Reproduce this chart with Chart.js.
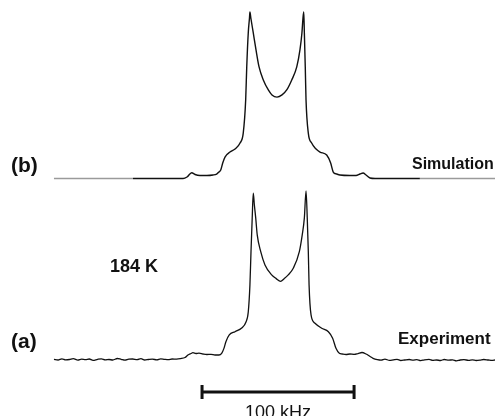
<!DOCTYPE html>
<html>
<head>
<meta charset="utf-8">
<title>184 K spectrum</title>
<script src="https://cdn.jsdelivr.net/npm/chart.js@4.4.1/dist/chart.umd.min.js"></script>
<style>
  html, body { margin: 0; padding: 0; background: #fff; }
  canvas { display: block; }
</style>
</head>
<body>
<canvas id="espectro" width="495" height="416"></canvas>
<script>
// frequency offset in kHz, intensity normalised to the horn maximum
const simFreq = [-146.7, -94.7, -61.8, -59.2, -56.1, -53.9, -50.7, -46.1, -42.1, -39.7, -38.2, -37.0, -35.7, -34.2, -30.9, -27.6, -24.3, -22.2, -20.6, -19.9, -18.9, -18.1, -17.8, -17.2, -15.6, -13.8, -11.8, -9.0, -5.7, -3.3, 0, 3.3, 6.4, 9.7, 13.0, 15.1, 16.4, 17.1, 17.6, 18.0, 18.6, 19.1, 20.6, 22.8, 25.7, 28.3, 32.7, 35.3, 37.0, 39.3, 41.4, 48.0, 52.0, 54.6, 56.6, 58.6, 61.2, 64.5, 94.0, 143.4];
const simIntensity = [0, 0, 0, 0.9, 3.5, 2.4, 1.8, 1.8, 2.1, 2.7, 3.9, 5.1, 9.3, 12.9, 15.9, 17.7, 21.3, 27.3, 47.1, 67.0, 87.4, 96.4, 100, 96.4, 87.4, 77.2, 67.0, 59.2, 53.2, 50.2, 48.9, 50.2, 53.2, 59.2, 67.0, 77.2, 87.4, 96.4, 100, 87.4, 67.0, 47.1, 27.3, 21.3, 17.7, 15.9, 14.1, 9.3, 3.9, 2.7, 2.1, 1.8, 1.8, 2.7, 3.3, 2.1, 0.3, 0, 0, 0];

const expFreq = [
  -146.7, -144, -141.5, -139, -136.5, -134, -131, -128.5, -126, -123.5, -121, -118, -115.5, -113, -110.5, -108, -105, -102.5, -100, -97.5, -95, -92, -89.5, -87, -84.5, -82, -79, -76.5, -74, -71.5, -69, -66, -63.5,
  -60.5, -58.6, -56.6, -55.3, -53.3, -51.3, -48.7, -46.1, -43.4, -40.8, -38.2, -36.4, -34.9, -33.6, -31.4, -27.6, -23.2, -20.4, -18.9, -17.8, -17.1, -16.3, -15.6, -14.9, -14.0, -13.0, -10.7, -7.9, -3.5, -0.7,
  2.4, 4.6, 7.4, 10.7, 14.7, 16.6, 18.0, 19.1, 19.9, 20.6, 21.1, 22.4, 25.0, 29.4, 33.8, 36.6, 38.8, 41.0, 42.8, 45.4, 48.0, 50.7, 53.3, 55.9, 58.6, 61.2, 63.2,
  66, 68.5, 71, 74, 76.5, 79, 81.5, 84, 87, 89.5, 92, 94.5, 97, 100, 102.5, 105, 107.5, 110, 113, 115.5, 118, 120.5, 123, 126, 128.5, 131, 133.5, 136, 139, 141.5, 143.4
];
const expIntensity = [
  0.1, -0.3, 0.4, -0.2, 0.0, 0.5, -0.4, 0.2, -0.1, 0.3, -0.5, 0.1, 0.4, -0.2, 0.0, -0.3, 0.6, 0.1, -0.4, 0.2, 0.3, -0.1, 0.5, -0.3, 0.0, 0.2, -0.2, 0.4, 0.1, -0.1, 0.3, 0.2, 0.5,
  1.2, 2.7, 3.6, 4.1, 3.6, 3.8, 3.3, 3.0, 3.1, 2.7, 2.7, 3.7, 6.7, 10.7, 14.8, 16.7, 19.0, 22.6, 28.6, 44.9, 64.8, 85.2, 100.1, 93.1, 85.2, 75.0, 64.9, 56.9, 50.9, 48.8,
  47.0, 48.5, 50.9, 54.9, 64.9, 75.0, 85.2, 101.5, 85.2, 64.9, 44.9, 26.8, 21.8, 18.8, 16.7, 12.8, 6.7, 3.7, 3.3, 3.0, 3.3, 3.1, 3.6, 4.2, 3.3, 1.8, 0.7,
  -0.1, -0.4, 0.2, -0.5, -0.2, 0.1, -0.6, -0.3, 0.0, -0.4, -0.1, -0.7, -0.2, 0.1, -0.5, -0.3, -0.6, 0.0, -0.4, -0.2, -0.8, -0.3, -0.1, -0.5, -0.2, -0.6, -0.4, 0.0, -0.3, -0.5, -0.3
];

// scale bar: start (kHz) and length
const barraInicio = -49.3;
const barraAncho = 100;
const barraTexto = "100 kHz";

const toXY = (xs, ys) => xs.map((x, i) => ({ x, y: ys[i] }));

// labels and scale bar drawn over the traces
const rotulos = {
  id: "rotulos",
  afterDatasetsDraw(chart) {
    const { ctx, scales } = chart;
    const x = scales.x;
    ctx.save();
    ctx.fillStyle = "#111";
    ctx.textBaseline = "middle";

    ctx.font = "bold 21px 'Liberation Sans', Arial, sans-serif";
    ctx.textAlign = "left";
    ctx.fillText("(b)", 11, 166);
    ctx.fillText("(a)", 11, 342);

    ctx.font = "bold 16px 'Liberation Sans', Arial, sans-serif";
    ctx.fillText("Simulation", 412, 165);
    ctx.font = "bold 17px 'Liberation Sans', Arial, sans-serif";
    ctx.fillText("Experiment", 398, 339);
    ctx.font = "bold 18px 'Liberation Sans', Arial, sans-serif";
    ctx.fillText("184 K", 110, 267);

    // scale bar under the experimental trace
    const yBar = scales.yExp.getPixelForValue(-19.6);
    const x0 = x.getPixelForValue(barraInicio);
    const x1 = x.getPixelForValue(barraInicio + barraAncho);
    ctx.strokeStyle = "#111";
    ctx.lineWidth = 3;
    ctx.beginPath();
    ctx.moveTo(x0, yBar);
    ctx.lineTo(x1, yBar);
    ctx.moveTo(x0, yBar - 7);
    ctx.lineTo(x0, yBar + 7);
    ctx.moveTo(x1, yBar - 7);
    ctx.lineTo(x1, yBar + 7);
    ctx.stroke();

    ctx.font = "18px 'Liberation Sans', Arial, sans-serif";
    ctx.textAlign = "center";
    ctx.textBaseline = "alphabetic";
    ctx.fillText(barraTexto, (x0 + x1) / 2, 418);
    ctx.restore();
  }
};

document.addEventListener("DOMContentLoaded", () => {
  const ctx = document.getElementById("espectro").getContext("2d");

  new Chart(ctx, {
    type: "line",
    data: {
      datasets: [
        {
          label: "Simulation",
          data: toXY(simFreq, simIntensity),
          yAxisID: "ySim",
          borderColor: "#111",
          borderWidth: 1.4,
          pointRadius: 0,
          cubicInterpolationMode: "monotone",
          segment: {
            // far wings of the simulated trace are printed lighter
            borderColor: c => (c.p1.parsed.x <= -94 || c.p0.parsed.x >= 94) ? "#9a9a9a" : "#111"
          }
        },
        {
          label: "Experiment",
          data: toXY(expFreq, expIntensity),
          yAxisID: "yExp",
          borderColor: "#111",
          borderWidth: 1.3,
          pointRadius: 0,
          cubicInterpolationMode: "monotone"
        }
      ]
    },
    options: {
      responsive: false,
      animation: false,
      devicePixelRatio: 1,
      layout: { padding: 0 },
      plugins: { legend: { display: false }, tooltip: { enabled: false } },
      scales: {
        x: { type: "linear", min: -182.2, max: 143.4, display: false },
        ySim: { type: "linear", min: -142.6, max: 107.2, display: false },
        yExp: { type: "linear", min: -34.0, max: 216.3, display: false }
      }
    },
    plugins: [rotulos]
  });
});
</script>
</body>
</html>
